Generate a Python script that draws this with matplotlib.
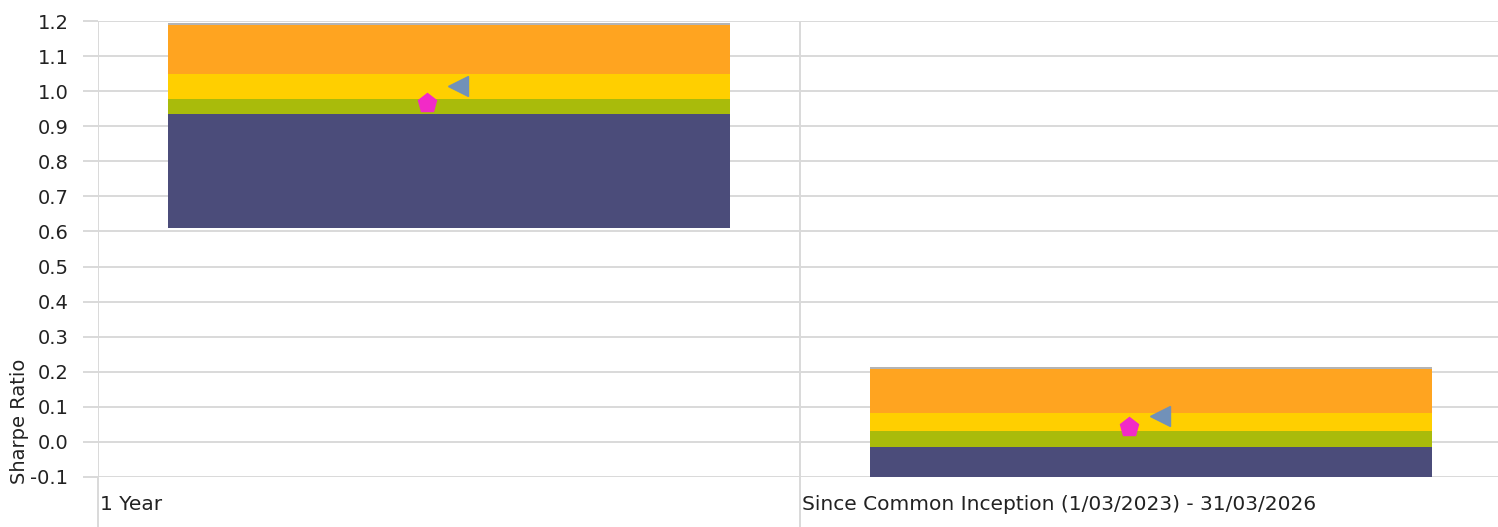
import matplotlib
matplotlib.use("Agg")
import matplotlib.pyplot as plt
import numpy as np

categories = ["1 Year", "Since Common Inception (1/03/2023) - 31/03/2026"]
# band boundaries (bottom to top)
band_low    = [0.610, -0.103]
band_navy   = [0.935, -0.015]
band_green  = [0.979, 0.030]
band_yellow = [1.049, 0.0825]
band_orange = [1.189, 0.208]
band_top    = [1.194, 0.213]
pentagon_vals = [0.967, 0.042]
triangle_vals = [1.016, 0.074]
yticks = [-0.1, 0.0, 0.1, 0.2, 0.3, 0.4, 0.5, 0.6, 0.7, 0.8, 0.9, 1.0, 1.1, 1.2]

colors = ["#4B4C7A", "#A9BB0B", "#FFCF00", "#FFA420", "#B4B4B4"]
grid_c = "#D9D9D9"
text_c = "#222222"

W, H = 1498, 527
fig = plt.figure(figsize=(W/100, H/100), dpi=100)
ax = fig.add_axes([98/W, (H-477)/H, 1 - 98/W, (477-21)/H])

x = np.arange(len(categories))
bounds = [band_low, band_navy, band_green, band_yellow, band_orange, band_top]
for i in range(5):
    lo = np.array(bounds[i]); hi = np.array(bounds[i+1])
    ax.bar(x, hi - lo, bottom=lo, width=0.8, color=colors[i], zorder=3, linewidth=0)

ax.plot(x - 0.031, pentagon_vals, linestyle="none", marker="p", ms=14,
        color="#F22AC7", zorder=5)
ax.plot(x + 0.013, triangle_vals, linestyle="none", marker="<", ms=14,
        color="#7191B9", zorder=5)

ax.set_xlim(-0.5, -0.5 + (W - 98) / 702)
ax.set_ylim(-0.1, 1.2)
ax.set_yticks(yticks)
ax.set_yticklabels([f"{v:.1f}" for v in yticks])
ax.tick_params(axis="y", length=10.8, width=1.4, color=grid_c, labelsize=14,
               labelcolor=text_c, pad=10.5)
ax.yaxis.grid(True, color=grid_c, linewidth=1.4, zorder=0)

ax.set_xticks([])
ax.set_xticks([-0.5, 0.5], minor=True)
ax.tick_params(axis="x", which="minor", length=36, width=1.4, color=grid_c)
ax.xaxis.grid(True, which="minor", color=grid_c, linewidth=1.4, zorder=0)
for s in ax.spines.values():
    s.set_visible(False)

for i, c in enumerate(categories):
    ax.text(i - 0.5 + 2/702, -0.1 - 27/350.5, c, ha="left", va="center",
            fontsize=14.5, color=text_c, transform=ax.transData, clip_on=False)

fig.text(20/W, 1 - 421/H, "Sharpe Ratio", rotation=90, ha="center", va="center",
         fontsize=14, color=text_c)

fig.savefig("out.png", dpi=100)
